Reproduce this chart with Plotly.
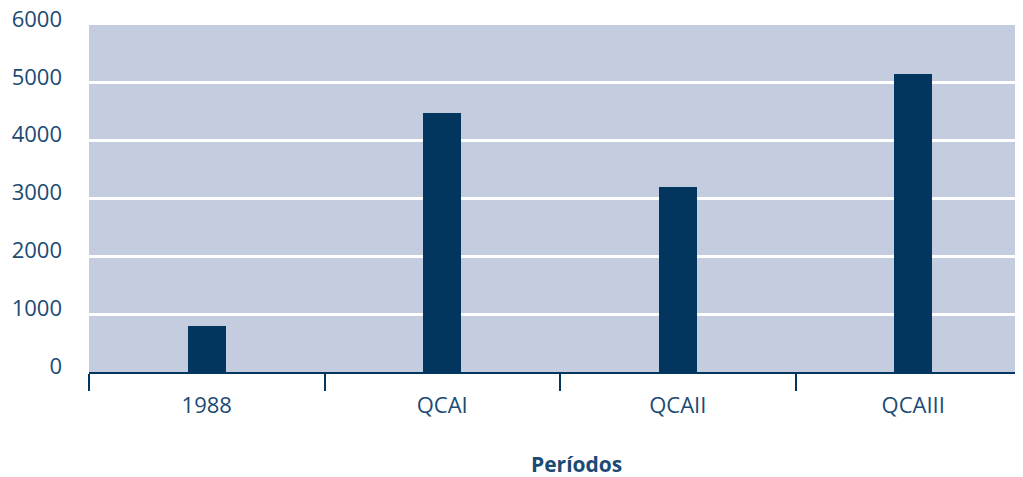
import plotly.graph_objects as go

categories = ["1988", "QCAI", "QCAII", "QCAIII"]
values = [790, 4470, 3200, 5150]
y_ticks = [0, 1000, 2000, 3000, 4000, 5000, 6000]
x_title = "Períodos"

dark = "#02365F"
text_color = "#1B4A75"
font_family = "Open Sans, Noto Sans, sans-serif"

fig = go.Figure(go.Bar(
    x=categories, y=values, marker_color=dark, marker_line_width=0, width=0.162,
))

fig.update_layout(
    width=1023, height=477,
    margin=dict(l=81, r=0, t=17, b=113, autoexpand=False),
    paper_bgcolor="white", plot_bgcolor="#C4CDDF",
    showlegend=False,
    font=dict(family=font_family, size=22, color=text_color),
    bargap=0,
)
fig.update_xaxes(
    type="category", range=[-0.5, 3.5],
    showline=True, linecolor=dark, linewidth=2,
    ticks="outside", tickson="boundaries", ticklen=17, tickwidth=2, tickcolor=dark,
    showgrid=False, ticklabelstandoff=13,
    tickfont=dict(size=22, color=text_color),
)
fig.update_yaxes(
    range=[0, 6000], tickvals=y_ticks,
    showgrid=True, gridcolor="white", gridwidth=2.5, zeroline=False,
    showline=False, ticks="", ticklabelstandoff=26, ticklabelshift=-6,
    ticklabeloverflow="allow",
    tickfont=dict(size=22, color=text_color),
)
fig.add_annotation(
    text="<b>" + x_title + "</b>", xref="paper", yref="paper",
    x=0.518, y=-0.265, xanchor="center", yanchor="middle", showarrow=False,
    font=dict(size=21, color=text_color, family=font_family),
)
fig.write_html("out.html")
